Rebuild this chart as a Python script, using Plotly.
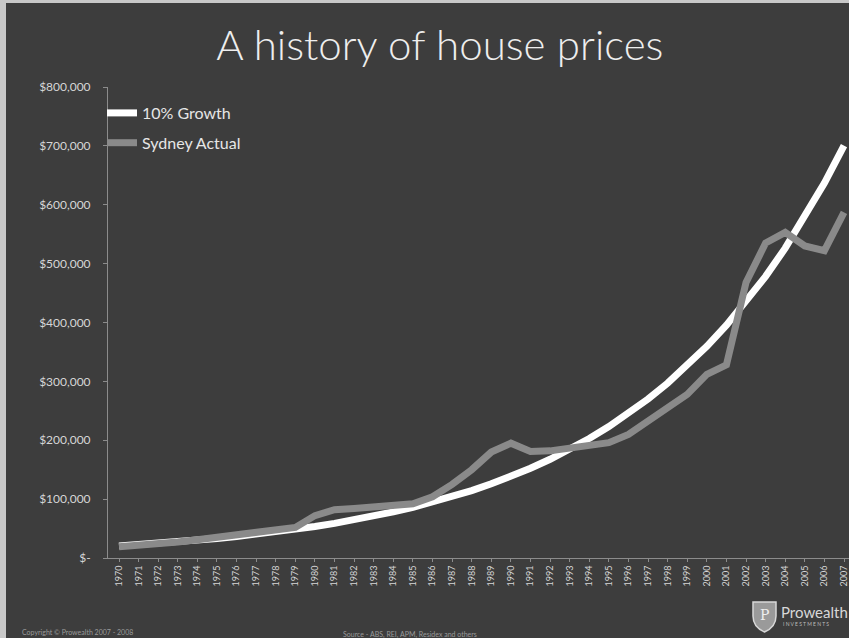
import plotly.graph_objects as go

# ---- data ----
years = list(range(1970, 2008))
growth_10pct = [20600, 22660, 24930, 27420, 30160, 33180, 36490, 40140, 44160, 48570,
                53430, 58770, 64650, 71110, 78220, 86050, 94650, 104120, 114530, 125980,
                138580, 152440, 167680, 184450, 202900, 223190, 245500, 270050, 297060, 326770,
                359440, 395390, 434930, 478420, 526260, 578890, 636780, 700460]
sydney_actual = [19000, 21000, 24000, 27000, 31000, 35000, 38000, 42000, 46000, 52000,
                 72000, 82000, 84000, 86000, 89000, 92000, 104000, 125000, 150000, 180000,
                 195000, 181000, 182000, 187000, 192000, 196000, 210000, 232000, 253000, 278000,
                 312000, 328000, 468000, 535000, 553000, 530000, 522000, 587000]
x_ticktext = [str(y) for y in years]
y_tickvals = [0, 100000, 200000, 300000, 400000, 500000, 600000, 700000, 800000]
y_ticktext = ["$-", "$100,000", "$200,000", "$300,000", "$400,000",
              "$500,000", "$600,000", "$700,000", "$800,000"]
series_names = ["10% Growth", "Sydney Actual"]

# ---- layout geometry (pixels) ----
W, H = 849, 638
ML, MR, MT, MB = 108, 0, 87, 80
PW, PH = W - ML - MR, H - MT - MB


def px(xp):
    return (xp - ML) / PW


def py(yp):
    return (H - MB - yp) / PH


BG = "#3d3d3d"
FONT = "Lato"

fig = go.Figure()
fig.add_trace(go.Scatter(x=years, y=growth_10pct, mode="lines", name=series_names[0],
                         legendgroup="a",
                         line=dict(color="#ffffff", width=7)))
fig.add_trace(go.Scatter(x=years, y=sydney_actual, mode="lines", name=series_names[1],
                         legendgroup="b",
                         line=dict(color="#8a8a8a", width=7)))

shapes = [
    # light frame strips (left and top)
    dict(type="rect", xref="paper", yref="paper", x0=px(0), x1=px(6), y0=py(H), y1=py(0),
         fillcolor="#c8c8c8", line=dict(width=0), layer="below"),
    dict(type="rect", xref="paper", yref="paper", x0=px(0), x1=px(W), y0=py(3), y1=py(0),
         fillcolor="#c8c8c8", line=dict(width=0), layer="below"),
    # logo shield
    dict(type="path", xref="paper", yref="paper",
         path=(f"M {px(753)},{py(602)} L {px(776)},{py(602)} L {px(776)},{py(616)} "
               f"Q {px(776)},{py(627)} {px(764.5)},{py(632)} "
               f"Q {px(753)},{py(627)} {px(753)},{py(616)} Z"),
         fillcolor="#9a9a9a", line=dict(color="#d8d8d8", width=1.5)),
]

annotations = [
    dict(text="Copyright © Prowealth 2007 - 2008", xref="paper", yref="paper",
         x=px(20), y=py(632), xanchor="left", yanchor="middle", showarrow=False,
         font=dict(family=FONT, size=7, color="#9a9a9a")),
    dict(text="Source - ABS, REI, APM, Residex and others", xref="paper", yref="paper",
         x=px(410), y=py(634), xanchor="center", yanchor="middle", showarrow=False,
         font=dict(family=FONT, size=7, color="#9a9a9a")),
    dict(text="P", xref="paper", yref="paper", x=px(764.5), y=py(615),
         xanchor="center", yanchor="middle", showarrow=False,
         font=dict(family="DejaVu Serif", size=14, color="#eeeeee")),
    dict(text="Prowealth", xref="paper", yref="paper", x=px(779), y=py(612),
         xanchor="left", yanchor="middle", showarrow=False,
         font=dict(family=FONT, size=15, color="#d8d8d8")),
    dict(text="I N V E S T M E N T S", xref="paper", yref="paper", x=px(781), y=py(624),
         xanchor="left", yanchor="middle", showarrow=False,
         font=dict(family=FONT, size=5, color="#bdbdbd")),
]

fig.update_layout(
    width=W, height=H,
    margin=dict(l=ML, r=MR, t=MT, b=MB, pad=0),
    paper_bgcolor=BG, plot_bgcolor=BG,
    title=dict(text="A history of house prices", x=0.518, xref="container",
               y=1 - 45 / H, yref="container", xanchor="center", yanchor="middle",
               font=dict(family=FONT, size=42, color="#eeeeee", weight=300)),
    showlegend=True,
    legend=dict(x=px(102), y=py(96), xanchor="left", yanchor="top",
                bgcolor="rgba(0,0,0,0)", itemwidth=30, tracegroupgap=6,
                traceorder="grouped",
                font=dict(family=FONT, size=16, color="#e6e6e6")),
    xaxis=dict(range=[1970 - 11 / 19.6, 2007 + 5 / 19.6], tickvals=years, ticktext=x_ticktext,
               tickangle=-90, showgrid=False, zeroline=False,
               showline=True, linecolor="#8c8c8c", linewidth=1,
               ticks="outside", ticklen=3, tickcolor="#8c8c8c",
               tickfont=dict(family=FONT, size=9, color="#d6d6d6")),
    yaxis=dict(range=[0, 800000], tickvals=y_tickvals, ticktext=y_ticktext,
               showgrid=False, zeroline=False,
               showline=True, linecolor="#8c8c8c", linewidth=1,
               ticks="outside", ticklen=4, tickcolor="#8c8c8c", ticklabelstandoff=10,
               tickfont=dict(family=FONT, size=12, color="#d6d6d6")),
    shapes=shapes,
    annotations=annotations,
)

fig.write_html("out.html")
